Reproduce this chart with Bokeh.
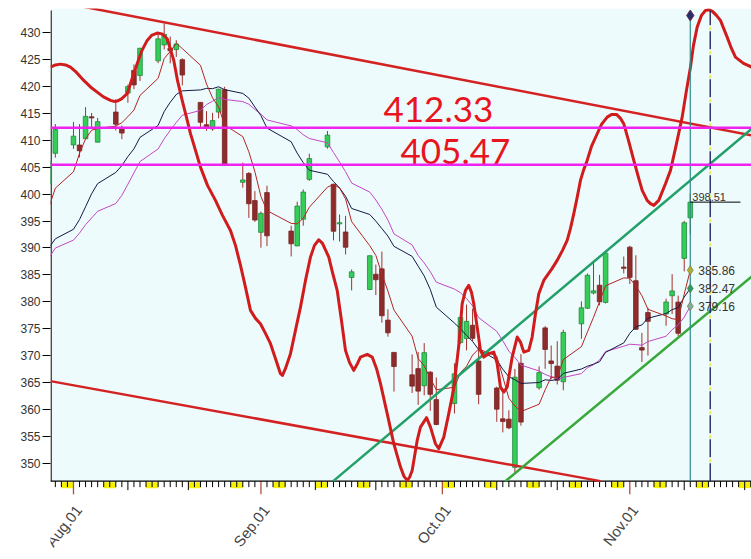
import math
import numpy as np
import pandas as pd
from bokeh.plotting import figure
from bokeh.models import Range1d, FixedTicker, Span
from bokeh.embed import file_html
from bokeh.resources import INLINE
from bokeh.core.properties import value

# ---------------- data ----------------
dates = ["2022-07-28", "2022-07-29",
         "2022-08-01", "2022-08-02", "2022-08-03", "2022-08-04", "2022-08-05",
         "2022-08-08", "2022-08-09", "2022-08-10", "2022-08-11", "2022-08-12",
         "2022-08-15", "2022-08-16", "2022-08-17", "2022-08-18", "2022-08-19",
         "2022-08-22", "2022-08-23", "2022-08-24", "2022-08-25", "2022-08-26",
         "2022-08-29", "2022-08-30", "2022-08-31", "2022-09-01", "2022-09-02",
         "2022-09-06", "2022-09-07", "2022-09-08", "2022-09-09",
         "2022-09-12", "2022-09-13", "2022-09-14", "2022-09-15", "2022-09-16",
         "2022-09-19", "2022-09-20", "2022-09-21", "2022-09-22", "2022-09-23",
         "2022-09-26", "2022-09-27", "2022-09-28", "2022-09-29", "2022-09-30",
         "2022-10-03", "2022-10-04", "2022-10-05", "2022-10-06", "2022-10-07",
         "2022-10-10", "2022-10-11", "2022-10-12", "2022-10-13", "2022-10-14",
         "2022-10-17", "2022-10-18", "2022-10-19", "2022-10-20", "2022-10-21",
         "2022-10-24", "2022-10-25", "2022-10-26", "2022-10-27", "2022-10-28",
         "2022-10-31", "2022-11-01", "2022-11-02", "2022-11-03", "2022-11-04",
         "2022-11-07", "2022-11-08", "2022-11-09", "2022-11-10", "2022-11-11"]
opens = [401.89, 407.58,
         409.15, 409.12, 410.30, 414.37, 409.66,
         415.25, 412.22, 418.78, 422.99, 422.03,
         424.77, 427.73, 427.12, 426.86, 424.98,
         417.05, 412.90, 412.11, 415.24, 419.39,
         402.20, 403.85, 398.80, 392.89, 400.28,
         393.13, 390.37, 395.34, 402.74,
         408.78, 401.83, 394.47, 392.96, 384.50,
         382.26, 385.10, 386.11, 376.58, 370.58,
         366.41, 367.56, 364.38, 366.90, 361.80,
         361.08, 372.40, 373.15, 375.62, 368.97,
         363.96, 358.24, 358.17, 349.21, 368.55,
         364.01, 375.13, 368.99, 368.03, 365.12,
         375.89, 378.79, 381.62, 383.07, 379.87,
         386.44, 390.14, 383.90, 371.47, 377.99,
         377.71, 381.11, 379.93, 388.05, 395.59]
highs = [406.80, 413.03,
         413.41, 413.00, 416.17, 415.09, 414.15,
         417.62, 412.75, 420.34, 424.10, 427.21,
         429.96, 431.73, 429.30, 428.61, 425.25,
         417.07, 415.42, 415.11, 419.56, 419.96,
         405.84, 404.10, 400.56, 396.78, 401.56,
         394.12, 398.59, 400.86, 407.51,
         411.73, 401.92, 396.21, 395.96, 386.00,
         388.55, 386.90, 389.31, 378.60, 370.62,
         370.21, 370.65, 372.30, 367.11, 365.91,
         368.55, 377.49, 379.46, 378.72, 373.29,
         364.21, 363.03, 359.82, 367.51, 370.26,
         367.98, 375.45, 371.85, 372.67, 374.80,
         380.06, 385.25, 387.58, 385.00, 389.52,
         388.40, 390.39, 388.63, 374.20, 378.87,
         380.57, 385.12, 381.14, 395.04, 400.09]
lows = [398.15, 406.77,
        408.40, 406.82, 410.22, 412.44, 409.60,
        411.83, 410.22, 416.97, 419.50, 421.03,
        424.33, 426.88, 424.30, 425.50, 420.21,
        412.31, 411.77, 411.77, 414.09, 405.25,
        401.20, 395.58, 394.84, 390.04, 390.33,
        388.42, 390.33, 394.12, 402.46,
        408.46, 391.40, 391.19, 388.78, 382.10,
        382.18, 381.24, 376.10, 373.50, 363.29,
        363.03, 360.82, 362.60, 359.70, 357.04,
        359.21, 372.17, 370.95, 372.68, 360.94,
        357.67, 355.71, 356.30, 348.11, 356.96,
        363.63, 367.52, 365.55, 364.61, 363.54,
        373.11, 378.67, 381.35, 379.33, 379.68,
        385.26, 383.29, 374.76, 368.79, 370.00,
        375.53, 377.72, 373.61, 385.64, 392.53]
closes = [406.07, 411.99,
          410.77, 408.06, 414.45, 414.17, 413.47,
          412.99, 411.35, 419.99, 420.30, 427.10,
          428.86, 429.70, 426.65, 427.89, 422.14,
          413.35, 412.35, 413.67, 419.51, 405.31,
          402.63, 398.21, 395.18, 396.42, 392.24,
          390.76, 397.78, 400.38, 406.60,
          410.97, 393.10, 394.69, 390.12, 385.56,
          388.55, 384.09, 377.39, 374.22, 367.95,
          364.31, 363.38, 370.53, 362.79, 357.18,
          366.61, 377.09, 376.35, 373.20, 362.79,
          360.02, 357.74, 356.56, 365.97, 357.63,
          366.82, 371.13, 368.50, 365.41, 374.29,
          378.87, 384.92, 382.02, 379.98, 389.02,
          386.21, 384.52, 374.87, 371.01, 376.35,
          379.95, 382.00, 374.13, 394.69, 398.51]
# closes before the first visible bar (moving-average warm-up)
prior_closes = [377.25, 381.24, 381.96, 383.25, 388.99, 388.67, 384.23, 380.83,
                378.83, 377.91, 385.13, 381.95, 392.27, 394.77, 398.79, 395.09,
                395.57, 390.89, 401.04]
ma_periods = [5, 15, 20]

# thick red cycle curve (days from Aug 1, price)
curve_days = [-3.80, -2.98, -2.15, -1.32, -0.50, 0.50, 1.70, 2.81, 3.92, 4.96,
              6.12, 6.70, 7.23, 7.94, 8.88, 9.59, 10.53, 11.25, 12.19, 12.90,
              13.84, 14.64, 15.50, 16.59, 17.20, 17.98, 18.69, 19.35, 20.18, 21.00,
              22.16, 23.48, 24.64, 25.96, 26.79, 27.62, 28.45, 29.27, 30.10, 30.92,
              31.75, 32.58, 33.40, 34.23, 34.56, 35.06, 35.89, 36.71, 37.54, 38.37,
              39.19, 39.85, 40.57, 41.18, 42.22, 42.83, 43.61, 44.32, 44.98, 45.64,
              46.35, 46.97, 47.46, 48.57, 49.40, 50.11, 50.77, 51.88, 52.97, 54.08,
              54.66, 55.19, 55.57, 56.01, 56.84, 57.38, 58.38, 59.04, 59.86, 60.41,
              61.24, 62.06, 62.89, 63.72, 64.28, 64.83, 65.37, 65.82, 66.20, 66.76,
              67.31, 67.85, 68.68, 69.51, 70.07, 70.61, 71.16, 71.72, 72.55, 73.38,
              73.92, 74.47, 75.29, 75.85, 76.40, 76.95, 77.77, 79.16, 79.99, 80.87,
              81.64, 82.19, 82.74, 83.30, 83.84, 84.34, 84.95, 85.66, 86.61, 87.32,
              88.26, 88.97, 89.80, 90.46, 91.00, 91.78, 92.66, 93.48, 94.05, 94.87,
              95.42, 95.97, 96.79, 97.90, 98.73, 99.55, 100.66, 101.37, 102.03, 102.53,
              103.14, 103.85, 104.51, 105.06, 105.67, 106.33, 106.99, 108.10, 108.81, 109.47,
              110.80, 113.40]
curve_vals = [423.60, 424.01, 424.16, 424.01, 423.60, 422.62, 421.13, 419.92, 418.96, 418.07,
              417.42, 417.23, 417.29, 417.70, 418.66, 421.13, 424.24, 426.52, 428.57, 429.50,
              429.93, 429.78, 428.88, 424.85, 421.13, 417.42, 414.25, 411.23, 408.12, 405.02,
              401.62, 398.83, 396.04, 393.25, 390.47, 386.75, 382.66, 378.39, 376.90, 375.91,
              374.11, 372.20, 369.46, 366.62, 366.30, 367.60, 370.34, 374.67, 378.99, 383.96,
              388.29, 390.47, 391.52, 390.84, 388.29, 385.45, 382.10, 376.52, 370.95, 368.72,
              367.23, 368.53, 369.71, 370.21, 369.71, 367.60, 364.76, 359.19, 353.61, 349.26,
              347.53, 346.79, 347.34, 348.64, 354.22, 356.69, 358.44, 356.69, 353.60, 352.68,
              354.84, 359.19, 363.89, 371.86, 379.63, 382.10, 383.03, 381.73, 379.63, 375.28,
              370.95, 369.71, 370.34, 370.63, 368.48, 364.13, 363.21, 364.13, 369.71, 373.43,
              372.50, 370.63, 370.95, 373.43, 377.77, 381.49, 383.96, 386.19, 387.68, 389.54,
              391.40, 393.63, 396.36, 399.39, 402.55, 404.41, 406.26, 408.86, 411.22, 412.96,
              414.31, 414.81, 414.81, 414.07, 413.09, 409.98, 406.26, 402.92, 400.69, 398.83,
              398.22, 397.90, 398.83, 401.93, 404.41, 408.50, 414.31, 419.28, 423.60, 427.64,
              431.04, 433.22, 434.14, 434.27, 433.96, 433.22, 432.29, 429.18, 427.08, 425.46,
              424.29, 423.00]

# trend lines: (day, price) end points
red_upper_days = [-3.80, 114.0]
red_upper_vals = [436.00, 410.50]
red_lower_days = [-3.80, 87.15]
red_lower_vals = [365.24, 346.65]
green_upper_days = [42.95, 114.0]
green_upper_vals = [346.65, 413.90]
green_lower_days = [71.44, 114.0]
green_lower_vals = [346.65, 386.40]

# horizontal levels and hand-written notes (anchored at the digits' centre)
levels = [412.33, 405.47]
note_texts = ["412.33", "405.47"]
note_days = [51.27, 54.08]
note_vals = [415.67, 408.01]

y_ticks = [350, 355, 360, 365, 370, 375, 380, 385, 390, 395, 400, 405, 410, 415, 420, 425, 430]
tick_days = [0, 31, 61, 92]
tick_labels = ["Aug.01", "Sep.01", "Oct.01", "Nov.01"]
cursor_day = 105.3
top_marker_val = 433.2

# ---------------- layout constants ----------------
W, H = 751, 559
LEFT = 50
TOP = 8
PX_DAY = 6.047
PX_UNIT = 5.38
X_START = -3.80
Y_TOP = 434.50
AXIS_V = 346.65
x_end = X_START + (W - LEFT) / PX_DAY
y_start = Y_TOP - (H - TOP) / PX_UNIT
BG = "#EEFBFC"

base = pd.Timestamp("2022-08-01")
df = pd.DataFrame(dict(date=pd.to_datetime(dates), open=opens, high=highs,
                       low=lows, close=closes))
df["d"] = (df["date"] - base).dt.days.astype(float)
allc = pd.Series(prior_closes + closes)
n0 = len(prior_closes)
for n in ma_periods:
    df[f"ma{n}"] = allc.rolling(n).mean().iloc[n0:].values
df["top"] = df[["open", "close"]].max(axis=1)
df["bot"] = df[["open", "close"]].min(axis=1)
up = df[df["close"] >= df["open"]]
dn = df[df["close"] < df["open"]]

p = figure(width=W, height=H, x_range=Range1d(X_START, x_end),
           y_range=Range1d(y_start, Y_TOP), x_axis_location=None,
           output_backend="svg", toolbar_location=None,
           min_border_left=LEFT, min_border_right=0, min_border_top=TOP,
           min_border_bottom=0)
p.grid.visible = False
p.outline_line_color = None
p.background_fill_color = "white"
p.border_fill_color = "white"

ya = p.yaxis[0]
ya.ticker = FixedTicker(ticks=y_ticks)
ya.axis_line_color = None
ya.major_tick_out = 8
ya.major_tick_in = 0
ya.major_tick_line_color = "black"
ya.minor_tick_line_color = None
ya.major_label_standoff = 2
ya.major_label_text_font = "Liberation Sans"
ya.major_label_text_font_size = "12px"
ya.major_label_text_color = "#333333"

# plot background
p.quad(left=[X_START], right=[x_end], bottom=[AXIS_V], top=[Y_TOP],
       fill_color=BG, line_color=None)

# weekend markers and day ticks under the axis line
sats = pd.date_range("2022-07-16", "2022-11-26", freq="W-SAT")
sat_d = [float((s - base).days) for s in sats]
p.quad(left=sat_d, right=[s + 2 for s in sat_d],
       top=AXIS_V - 1.0 / PX_UNIT, bottom=AXIS_V - 7.0 / PX_UNIT,
       fill_color="#F5F000", line_color=None)
days = np.arange(math.ceil(X_START), math.floor(x_end) + 1)
minor_d, mid_d, maj_d = [], [], []
for d in days:
    dom = (base + pd.Timedelta(days=int(d))).day
    if dom == 1:
        maj_d.append(float(d))
    elif dom in (10, 20):
        mid_d.append(float(d))
    else:
        minor_d.append(float(d))
p.segment(x0=minor_d, x1=minor_d, y0=AXIS_V, y1=AXIS_V - 6 / PX_UNIT,
          line_color="black", line_width=1)
p.segment(x0=mid_d, x1=mid_d, y0=AXIS_V, y1=AXIS_V - 9 / PX_UNIT,
          line_color="black", line_width=1)
p.segment(x0=maj_d, x1=maj_d, y0=AXIS_V, y1=AXIS_V - 13 / PX_UNIT,
          line_color="#B0503A", line_width=1.3)

# axis lines
p.segment(x0=[X_START], x1=[x_end], y0=[AXIS_V], y1=[AXIS_V],
          line_color="black", line_width=1.2)
ax_x = X_START + 0.6 / PX_DAY
p.segment(x0=[ax_x], x1=[ax_x], y0=[AXIS_V], y1=[Y_TOP - 2 / PX_UNIT],
          line_color="black", line_width=1.2)

# x tick labels
p.text(x=tick_days, y=[AXIS_V] * len(tick_days), text=tick_labels,
       angle=math.radians(52), text_align="right", text_baseline="middle",
       x_offset=5, y_offset=26, text_font=value("Liberation Sans"),
       text_font_size="15px", text_color="#444444")

# candles
WICK = "#A3302C"
p.segment(x0="d", x1="d", y0="high", y1="low", source=df, line_color=WICK,
          line_width=1)
p.vbar(x="d", width=0.76, top="top", bottom="bot", source=up,
       fill_color="#36CC58", line_color="#1F8A3E", line_width=0.8)
p.vbar(x="d", width=0.76, top="top", bottom="bot", source=dn,
       fill_color="#8E2C2C", line_color="#7A2424", line_width=0.8)

# moving averages
p.line(x="d", y="ma20", source=df, line_color="#C447C4", line_width=1)
p.line(x="d", y="ma15", source=df, line_color="#171745", line_width=1)
p.line(x="d", y="ma5", source=df, line_color="#B52323", line_width=1)

# trend lines
p.line(red_upper_days, red_upper_vals, line_color="#D42222", line_width=2.5)
p.line(red_lower_days, red_lower_vals, line_color="#D42222", line_width=2.5)
p.line(green_upper_days, green_upper_vals, line_color="#23A068", line_width=2.5)
p.line(green_lower_days, green_lower_vals, line_color="#38A83A", line_width=2.5)

# horizontal levels
for lv in levels:
    p.add_layout(Span(location=lv, dimension="width", line_color="#F022F0",
                      line_width=2.5))

# cycle curve
p.line(curve_days, curve_vals, line_color="#D01C1C", line_width=3,
       line_join="round")

# last-bar cursor and projection line
last = df.iloc[-1]
p.segment(x0=[last.d], x1=[last.d], y0=[AXIS_V], y1=[top_marker_val],
          line_color="#2F8C8C", line_width=1.2)
p.segment(x0=[cursor_day], x1=[cursor_day], y0=[AXIS_V], y1=[Y_TOP - 2 / PX_UNIT],
          line_color="#25285E", line_width=1.4, line_dash="18 6")
p.segment(x0=[cursor_day], x1=[cursor_day], y0=[AXIS_V], y1=[Y_TOP - 2 / PX_UNIT],
          line_color="#EDE85A", line_width=2, line_dash="3 21",
          line_dash_offset=-19)
p.scatter(x=[last.d], y=[top_marker_val], marker="diamond", size=11,
          fill_color="#22306E", line_color="#6A2A4A")

# close price label
p.segment(x0=[last.d], x1=[last.d + 8.3], y0=[last.close], y1=[last.close],
          line_color="black", line_width=1)
p.text(x=[last.d], y=[last.close], text=[f"{last.close:.2f}"], x_offset=2,
       y_offset=-1, text_baseline="bottom", text_align="left",
       text_font=value("Liberation Sans"), text_font_size="11px",
       text_color="#333333")

# moving-average value labels
ma_cols = ["ma5", "ma15", "ma20"]
ma_marker_colors = ["#B4AE2E", "#2E9A5E", "#86B096"]
for col, mc in zip(ma_cols, ma_marker_colors):
    v = float(last[col])
    p.scatter(x=[last.d], y=[v], marker="diamond", size=9, fill_color=mc,
              line_color="#5A6A50", line_width=0.6)
    p.text(x=[last.d], y=[v], text=[f"{v:.2f}"], x_offset=8, y_offset=0,
           text_baseline="middle", text_align="left",
           text_font=value("Liberation Sans"), text_font_size="12px",
           text_color="#333333")

# hand-written notes
p.text(x=note_days, y=note_vals, text=note_texts, text_baseline="middle",
       text_align="left", text_font=value("Lato"), text_font_size="35px",
       text_color="#E8141E")

open("out.html", "w").write(file_html(p, INLINE))
